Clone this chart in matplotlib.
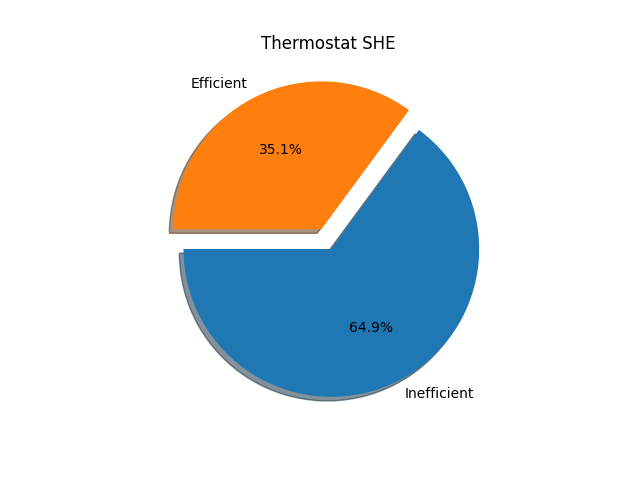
import matplotlib
matplotlib.use("Agg")
import matplotlib.pyplot as plt

labels = ['Inefficient', 'Efficient']
shares = [64.9, 35.1]
explode = (0.05, 0.1)

fig, ax = plt.subplots(figsize=(6.4, 4.8), dpi=100)
ax.pie(shares, labels=labels, explode=explode, autopct='%1.1f%%',
       shadow=True, startangle=180)
ax.set_title('Thermostat SHE')
fig.savefig('out.png')
